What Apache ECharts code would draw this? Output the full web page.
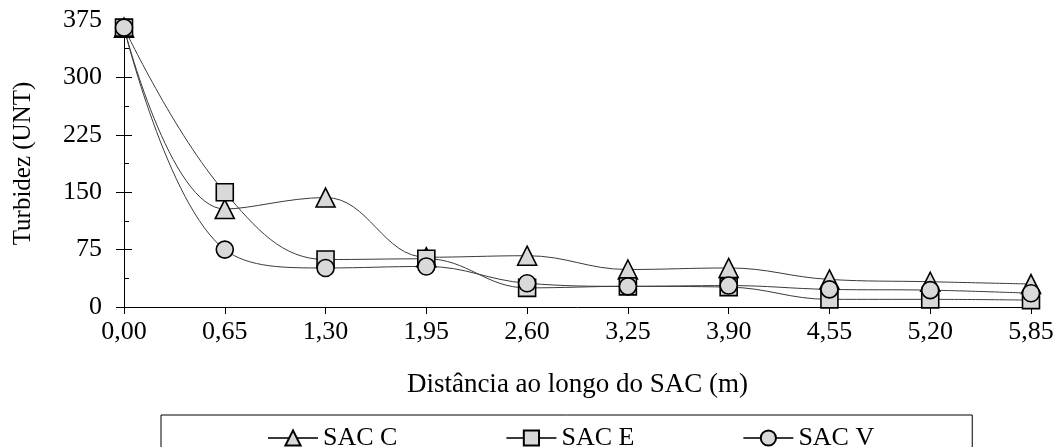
<!DOCTYPE html>
<html>
<head>
<meta charset="utf-8">
<script src="https://cdn.jsdelivr.net/npm/echarts@6/dist/echarts.min.js"></script>
<style>
html,body{margin:0;padding:0;background:#fff;}
#chart{width:1061px;height:447px;}
</style>
</head>
<body>
<div id="chart"></div>
<script>
const categories = ['0,00','0,65','1,30','1,95','2,60','3,25','3,90','4,55','5,20','5,85'];
const sacC = [365, 128, 143, 65, 67, 49, 51, 36, 33, 30];
const sacE = [365, 150, 62, 63, 25, 27, 26, 10, 10, 9];
const sacV = [365, 75, 51, 53, 31, 27, 28, 23, 22, 18];
const seriesNames = ['SAC C', 'SAC E', 'SAC V'];
const yTicks = [0, 75, 150, 225, 300, 375];

const FONT = 'Liberation Serif';
const chart = echarts.init(document.getElementById('chart'), null, {renderer: 'canvas'});

function mk(name, data, symbol, size) {
  return {
    name: name,
    type: 'line',
    data: data,
    smooth: 0.4,
    symbol: symbol,
    symbolSize: size,
    showAllSymbol: true,
    lineStyle: {color: '#3a3a3a', width: 1},
    itemStyle: {color: '#d9d9d9', borderColor: '#000', borderWidth: 1.6},
    emphasis: {disabled: true},
    animation: false
  };
}

const yCommon = {
  type: 'value',
  min: yTicks[0],
  max: yTicks[yTicks.length - 1],
  interval: 75,
  splitLine: {show: false},
  position: 'left'
};

chart.setOption({
  animation: false,
  textStyle: {fontFamily: FONT, color: '#000'},
  grid: {left: 124, right: 30, top: 20, bottom: 140, containLabel: false},
  xAxis: {
    type: 'category',
    data: categories,
    boundaryGap: false,
    name: 'Distância ao longo do SAC (m)',
    nameLocation: 'middle',
    nameGap: 64,
    nameTextStyle: {fontFamily: FONT, fontSize: 27, color: '#000'},
    axisLine: {lineStyle: {color: '#000', width: 1}},
    axisTick: {show: true, length: 7, lineStyle: {color: '#000'}},
    axisLabel: {fontFamily: FONT, fontSize: 26, color: '#000', margin: 12},
    splitLine: {show: false}
  },
  yAxis: [
    Object.assign({}, yCommon, {
      name: 'Turbidez (UNT)',
      nameLocation: 'middle',
      nameGap: 88,
      nameTextStyle: {fontFamily: FONT, fontSize: 25, color: '#000'},
      axisLine: {show: true, lineStyle: {color: '#000', width: 1}},
      axisTick: {show: true, length: 8, lineStyle: {color: '#000'}},
      axisLabel: {fontFamily: FONT, fontSize: 26, color: '#000', margin: 22}
    }),
    Object.assign({}, yCommon, {
      axisLine: {show: false},
      axisTick: {show: true, inside: true, length: 8, lineStyle: {color: '#000'}},
      minorTick: {show: true, splitNumber: 2, length: 5, lineStyle: {color: '#000'}},
      axisLabel: {show: false}
    })
  ],
  legend: {
    data: seriesNames,
    left: 161,
    top: 415,
    padding: [10, 98, 24, 106],
    itemGap: 108,
    itemWidth: 50,
    itemHeight: 19,
    borderColor: '#000',
    borderWidth: 1,
    textStyle: {fontFamily: FONT, fontSize: 26, color: '#000'}
  },
  series: [
    mk(seriesNames[0], sacC, 'triangle', 19),
    mk(seriesNames[1], sacE, 'rect', 17),
    mk(seriesNames[2], sacV, 'circle', 17)
  ]
});
</script>
</body>
</html>
